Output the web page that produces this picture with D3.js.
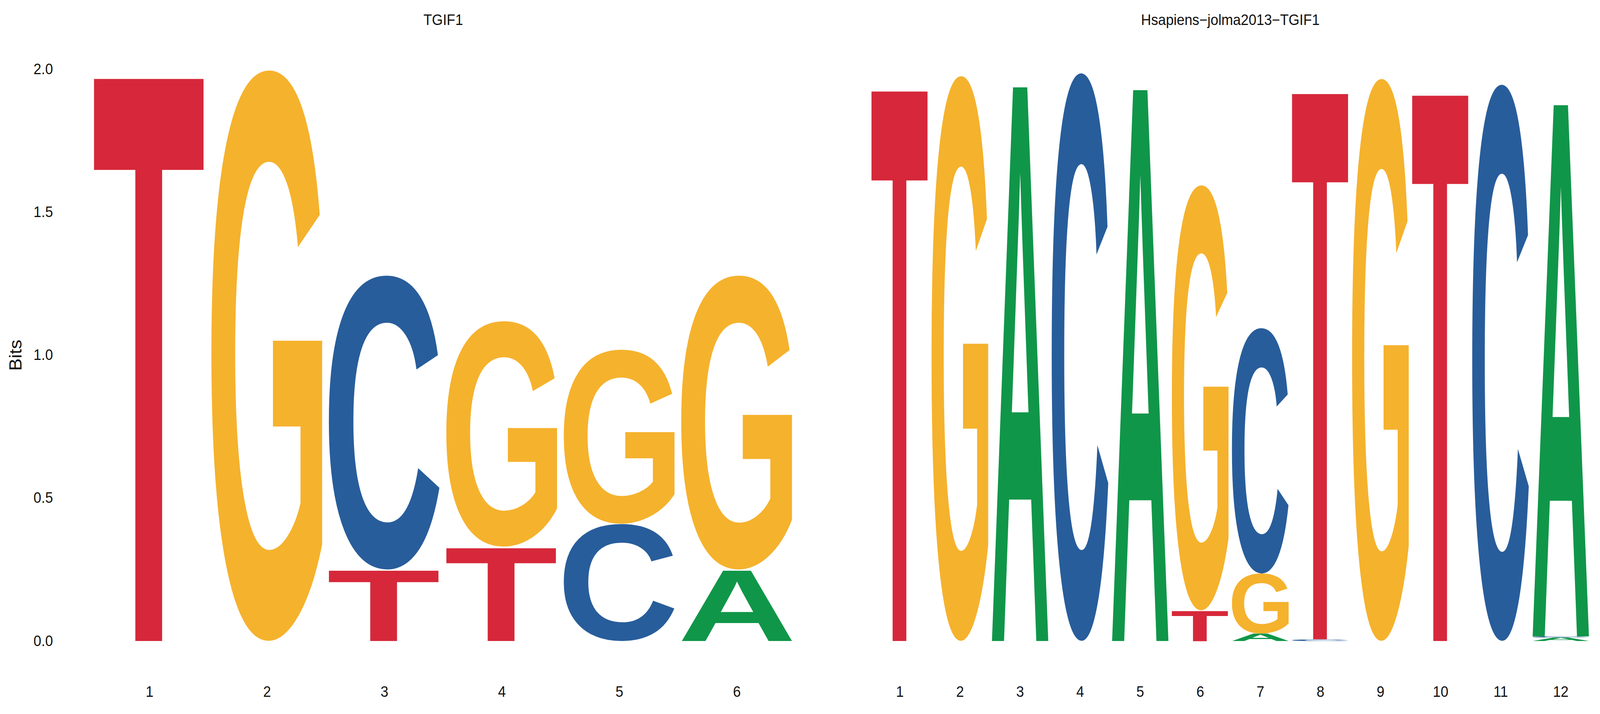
<!DOCTYPE html>
<html><head><meta charset="utf-8">
<script src="https://cdn.jsdelivr.net/npm/d3@7"></script>
<style>html,body{margin:0;padding:0;background:#fff;overflow:hidden}svg{display:block;width:100vw;height:100vh}</style>
</head><body>
<svg id="chart" viewBox="0 0 4350 1829" preserveAspectRatio="none"></svg>
<script>
// each column: letters stacked from bottom, [letter, bits]
const leftTitle = "TGIF1";
const leftColumns = [
  [["T", 2.0]],
  [["G", 2.0]],
  [["T", 0.25], ["C", 1.03]],
  [["T", 0.33], ["G", 0.79]],
  [["C", 0.41], ["G", 0.61]],
  [["A", 0.25], ["G", 1.03]]
];
const rightTitle = "Hsapiens\u2212jolma2013\u2212TGIF1";
const rightColumns = [
  [["T", 1.955]],
  [["G", 1.98]],
  [["A", 1.97]],
  [["C", 1.99]],
  [["A", 1.96]],
  [["T", 0.107], ["G", 1.49]],
  [["A", 0.026], ["G", 0.21], ["C", 0.86]],
  [["C", 0.006], ["T", 1.94]],
  [["G", 1.97]],
  [["T", 1.94]],
  [["C", 1.95]],
  [["A", 0.012], ["C", 0.004], ["A", 1.89]]
];
const yTicks = [0, 0.5, 1.0, 1.5, 2.0];
const colors = {A: "#109649", C: "#285D9B", G: "#F5B22D", T: "#D6283A"};

const svg = d3.select("#chart");
const y = d3.scaleLinear().domain([0, 2]).range([1642, 177]);
const FONT = "Liberation Sans";

// ink box of each glyph, measured on a canvas
const ctx = document.createElement("canvas").getContext("2d");
ctx.font = `bold 100px "${FONT}"`;
const ink = {};
"ACGT".split("").forEach(l => {
  const m = ctx.measureText(l);
  ink[l] = {l: m.actualBoundingBoxLeft, r: m.actualBoundingBoxRight,
            a: m.actualBoundingBoxAscent, d: m.actualBoundingBoxDescent};
});

function drawLogo(columns, range, title, showY) {
  const x = d3.scaleBand().domain(d3.range(1, columns.length + 1))
    .range(range).paddingInner(0.05).paddingOuter(0.025);
  const g = svg.append("g");
  columns.forEach((col, i) => {
    let base = 0;
    col.forEach(([l, v]) => {
      const x0 = x(i + 1), w = x.bandwidth();
      const yTop = y(base + v), h = y(base) - yTop;
      base += v;
      const k = ink[l];
      const sx = w / (k.l + k.r), sy = h / (k.a + k.d);
      g.append("text").text(l)
        .attr("font-family", FONT).attr("font-weight", "bold").attr("font-size", 100)
        .attr("fill", colors[l])
        .attr("transform", `translate(${x0},${yTop}) scale(${sx},${sy}) translate(${k.l},${k.a})`);
    });
  });
  const xa = g.append("g").attr("transform", "translate(0,1758)")
    .call(d3.axisBottom(x).tickSize(0).tickPadding(0));
  xa.select(".domain").remove();
  xa.selectAll("text").attr("font-size", 38).attr("font-family", FONT).attr("fill", "#111");
  g.append("text").attr("x", (range[0] + range[1]) / 2).attr("y", 64)
    .attr("text-anchor", "middle").attr("font-family", FONT).attr("font-size", 38)
    .attr("fill", "#111").text(title);
  if (showY) {
    const ya = g.append("g").attr("transform", "translate(150,0)")
      .call(d3.axisLeft(y).tickValues(yTicks).tickFormat(d3.format(".1f")).tickSize(0).tickPadding(6));
    ya.select(".domain").remove();
    ya.selectAll("text").attr("font-size", 38).attr("font-family", FONT).attr("fill", "#111");
    g.append("text").attr("transform", "translate(58,910) rotate(-90)")
      .attr("text-anchor", "middle").attr("font-family", FONT).attr("font-size", 48)
      .attr("fill", "#111").text("Bits");
  }
}

drawLogo(leftColumns, [247, 2163], leftTitle, true);
drawLogo(rightColumns, [2365, 4325], rightTitle, false);
</script>
</body></html>
